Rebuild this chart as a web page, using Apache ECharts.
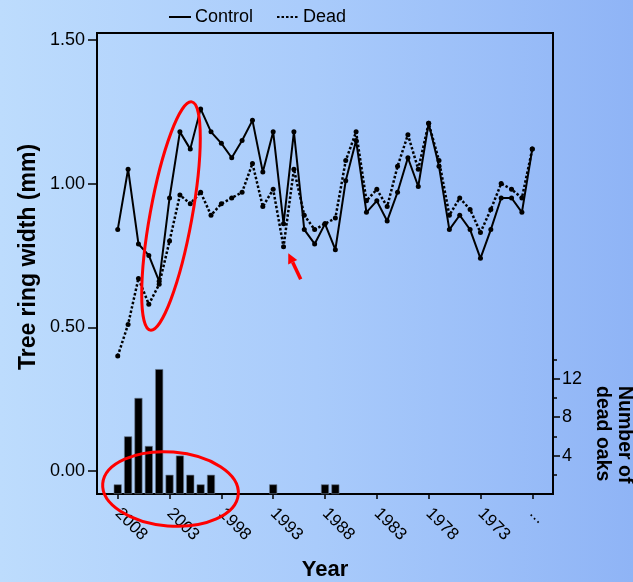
<!DOCTYPE html>
<html>
<head>
<meta charset="utf-8">
<script src="https://cdn.jsdelivr.net/npm/echarts@6/dist/echarts.min.js"></script>
<style>
html,body{margin:0;padding:0;}
#chart{width:633px;height:582px;background:linear-gradient(to right,#bddcfd 0%,#a9cbfb 50%,#8fb4f6 100%);}
</style>
</head>
<body>
<div id="chart"></div>
<script>
const categories = ['2010','2009','2008','2007','2006','2005','2004','2003','2002','2001','2000','1999','1998','1997','1996','1995','1994','1993','1992','1991','1990','1989','1988','1987','1986','1985','1984','1983','1982','1981','1980','1979','1978','1977','1976','1975','1974','1973','1972','1971','1970','1969','1968','1967','1966'];
const tickYears = ['2008','2003','1998','1993','1988','1983','1978','1973','1968'];
const tickLabels = {'1968':'...'};
const control = [null,null,0.84,1.05,0.79,0.75,0.66,0.95,1.18,1.12,1.26,1.18,1.14,1.09,1.15,1.22,1.04,1.18,0.86,1.18,0.84,0.79,0.86,0.77,1.01,1.15,0.90,0.94,0.87,0.97,1.09,0.99,1.21,1.06,0.84,0.89,0.84,0.74,0.84,0.95,0.95,0.90,1.12,null,null];
const dead = [null,null,0.40,0.51,0.67,0.58,0.65,0.80,0.96,0.93,0.97,0.89,0.93,0.95,0.97,1.07,0.92,0.98,0.78,1.05,0.89,0.84,0.86,0.88,1.08,1.18,0.94,0.98,0.92,1.06,1.17,1.05,1.21,1.08,0.89,0.95,0.91,0.83,0.91,1.00,0.98,0.95,1.12,null,null];
const deadOaks = [null,null,1,6,10,5,13,2,4,2,1,2,null,null,null,null,null,1,null,null,null,null,1,1,null,null,null,null,null,null,null,null,null,null,null,null,null,null,null,null,null,null,null,null,null];
const leftTicks = [0,0.5,1,1.5];
const rightMajor = [4,8,12];
const rightMinor = [2,6,10,14];

const FONT = 'Liberation Sans, Arial, sans-serif';
const chart = echarts.init(document.getElementById('chart'), null, {renderer:'canvas'});
const showTick = (i, v) => tickYears.indexOf(v) >= 0;
const hiddenLine = {show: false, onZero: false, lineStyle: {opacity: 0, width: 0}};

chart.setOption({
  backgroundColor: 'transparent',
  animation: false,
  textStyle: {fontFamily: FONT, color: '#000'},
  legend: {
    data: ['Control','Dead'],
    left: 168, top: 8, padding: 0,
    itemWidth: 22, itemHeight: 12, itemGap: 23,
    itemStyle: {opacity: 0},
    textStyle: {fontSize: 18, color: '#000', fontFamily: FONT, padding: [0,0,0,-1]}
  },
  grid: {left: 97, right: 80, top: 33, bottom: 88, show: true, borderColor: '#000', borderWidth: 2,
    backgroundColor: 'transparent', containLabel: false, outerBoundsMode: 'none'},
  xAxis: {
    type: 'category', data: categories, boundaryGap: false,
    axisLine: {onZero: false, lineStyle: {color: '#000', width: 2}},
    axisTick: {interval: showTick, length: 5, lineStyle: {color: '#000', width: 1.5}},
    axisLabel: {interval: showTick, rotate: -45, margin: 17, fontSize: 17, color: '#000', fontFamily: FONT,
      formatter: v => tickLabels[v] || v},
    splitLine: {show: false},
    name: 'Year', nameLocation: 'middle', nameGap: 65,
    nameTextStyle: {fontSize: 22, fontWeight: 'bold', color: '#000', fontFamily: FONT}
  },
  yAxis: [
    {
      type: 'value', min: -0.08, max: 1.524, position: 'left',
      axisLine: {show: true, onZero: false, lineStyle: {color: '#000', width: 2}},
      axisTick: {show: true, length: 9, customValues: leftTicks, lineStyle: {color: '#000', width: 1.5}},
      axisLabel: {customValues: leftTicks, margin: 12, fontSize: 18, color: '#000', fontFamily: FONT, formatter: v => v.toFixed(2)},
      splitLine: {show: false}
    },
    {
      type: 'value', min: 0, max: 48, position: 'right',
      axisLine: hiddenLine,
      axisTick: {show: true, length: 4, customValues: rightMinor, lineStyle: {color: '#000', width: 1.5}},
      axisLabel: {show: false},
      splitLine: {show: false}
    },
    {
      type: 'value', min: 0, max: 48, position: 'right',
      axisLine: hiddenLine,
      axisTick: {show: true, length: 7, customValues: rightMajor, lineStyle: {color: '#000', width: 1.5}},
      axisLabel: {customValues: rightMajor, margin: 9, fontSize: 18, color: '#000', fontFamily: FONT},
      splitLine: {show: false}
    }
  ],
  series: [
    {
      name: 'Number of dead oaks', type: 'bar', yAxisIndex: 1, data: deadOaks,
      barWidth: 8, itemStyle: {color: '#000', borderColor: '#6a7a90', borderWidth: 0.6}, z: 1
    },
    {
      name: 'Control', type: 'line', yAxisIndex: 0, data: control,
      symbol: 'circle', symbolSize: 5, showSymbol: true,
      lineStyle: {color: '#000', width: 2},
      itemStyle: {color: '#000'}, z: 3
    },
    {
      name: 'Dead', type: 'line', yAxisIndex: 0, data: dead,
      symbol: 'circle', symbolSize: 5, showSymbol: true,
      lineStyle: {color: '#000', width: 2.5, type: [2.5, 2]},
      itemStyle: {color: '#000'}, z: 4
    }
  ],
  graphic: [
    {type: 'text', x: 29, y: 257, rotation: Math.PI/2,
     style: {text: 'Tree ring width (mm)', fontSize: 23, fontWeight: 'bold', fontFamily: FONT, fill: '#000', align: 'center', verticalAlign: 'middle'}},
    {type: 'text', x: 635, y: 386, rotation: -Math.PI/2,
     style: {text: 'Number of\ndead oaks', fontSize: 19.5, lineHeight: 22, fontWeight: 'bold', fontFamily: FONT, fill: '#000', align: 'left', verticalAlign: 'top'}},
    {type: 'ellipse', x: 171, y: 216, rotation: -0.18, shape: {cx: 0, cy: 0, rx: 21, ry: 116},
     style: {fill: 'none', stroke: '#ff0000', lineWidth: 3}, z: 10},
    {type: 'ellipse', x: 170.5, y: 489, rotation: -0.08, shape: {cx: 0, cy: 0, rx: 68, ry: 37},
     style: {fill: 'none', stroke: '#ff0000', lineWidth: 3}, z: 10},
    {type: 'polyline', shape: {points: [[300.7, 279.3], [292.7, 262.3]]},
     style: {stroke: '#ff0000', lineWidth: 3.5, fill: 'none'}, z: 10},
    {type: 'polygon', shape: {points: [[288.3, 253.3], [297.2, 260.1], [288.2, 264.5]]},
     style: {fill: '#ff0000'}, z: 10}
  ]
});
</script>
</body>
</html>
